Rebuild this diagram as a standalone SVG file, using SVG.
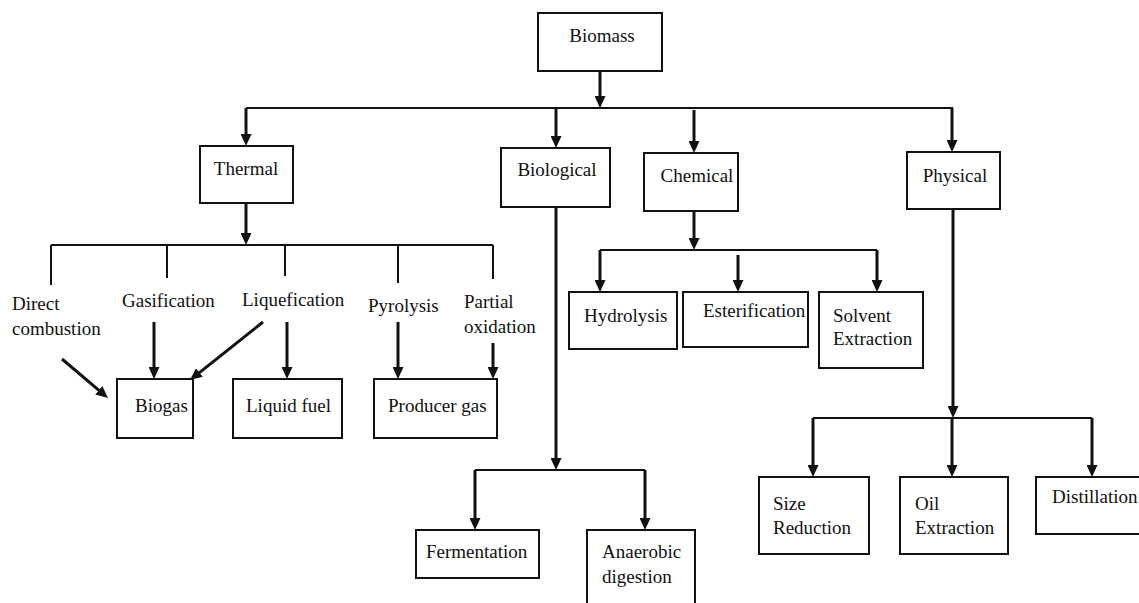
<svg xmlns="http://www.w3.org/2000/svg" width="1139" height="603" viewBox="0 0 1139 603">
<style>
  .box { fill: #fff; stroke: #111; stroke-width: 2; }
  .t { font-family: "Liberation Serif", "Times New Roman", serif; font-size: 19px; fill: #111; }
  .ln { fill: none; stroke: #111; stroke-width: 2; }
  .ar { fill: none; stroke: #111; stroke-width: 3; marker-end: url(#ah); }
</style>
<defs>
  <marker id="ah" markerUnits="userSpaceOnUse" markerWidth="12" markerHeight="11" refX="6" refY="5.5" orient="auto">
    <path d="M0,0 L12,5.5 L0,11 z" fill="#111"/>
  </marker>
</defs>
<rect width="1139" height="603" fill="#fff"/>

<g id="connectors">
  <!-- Biomass -->
  <line class="ar" x1="600" y1="71" x2="600" y2="102"/>
  <line class="ln" x1="246" y1="108" x2="953" y2="108"/>
  <line class="ar" x1="246" y1="108" x2="246" y2="140"/>
  <line class="ar" x1="556" y1="108" x2="556" y2="142"/>
  <line class="ar" x1="694" y1="110" x2="694" y2="147"/>
  <line class="ar" x1="952" y1="108" x2="952" y2="146"/>
  <!-- Thermal -->
  <line class="ar" x1="246" y1="203" x2="246" y2="239"/>
  <line class="ln" x1="51" y1="245" x2="493" y2="245"/>
  <line class="ln" x1="51" y1="245" x2="51" y2="285"/>
  <line class="ln" x1="167" y1="245" x2="167" y2="278"/>
  <line class="ln" x1="285" y1="245" x2="285" y2="276"/>
  <line class="ln" x1="398" y1="245" x2="398" y2="283"/>
  <line class="ln" x1="493" y1="245" x2="493" y2="279"/>
  <line class="ar" x1="62" y1="359" x2="103.4" y2="394.1"/>
  <line class="ar" x1="154" y1="322" x2="154" y2="373"/>
  <line class="ar" x1="263" y1="322" x2="194.7" y2="376.3"/>
  <line class="ar" x1="287" y1="322" x2="287" y2="373"/>
  <line class="ar" x1="398" y1="322" x2="398" y2="373"/>
  <line class="ar" x1="493" y1="343" x2="493" y2="373"/>
  <!-- Biological -->
  <line class="ar" x1="556" y1="207" x2="556" y2="464"/>
  <line class="ln" x1="475" y1="470" x2="645" y2="470"/>
  <line class="ar" x1="475" y1="470" x2="475" y2="524"/>
  <line class="ar" x1="645" y1="470" x2="645" y2="524"/>
  <!-- Chemical -->
  <line class="ar" x1="694" y1="211" x2="694" y2="244"/>
  <line class="ln" x1="600" y1="250" x2="877" y2="250"/>
  <line class="ar" x1="600" y1="250" x2="600" y2="286"/>
  <line class="ar" x1="738" y1="255" x2="738" y2="286"/>
  <line class="ar" x1="877" y1="250" x2="877" y2="286"/>
  <!-- Physical -->
  <line class="ar" x1="953" y1="209" x2="953" y2="412"/>
  <line class="ln" x1="813" y1="418" x2="1092" y2="418"/>
  <line class="ar" x1="813" y1="418" x2="813" y2="471"/>
  <line class="ar" x1="952" y1="418" x2="952" y2="471"/>
  <line class="ar" x1="1092" y1="418" x2="1092" y2="471"/>
</g>

<g id="biomass"><rect class="box" x="538" y="13" width="124" height="58"/><text class="t" x="602" y="42" text-anchor="middle">Biomass</text></g>
<g id="thermal"><rect class="box" x="200" y="146" width="93" height="57"/><text class="t" x="246" y="175" text-anchor="middle">Thermal</text></g>
<g id="biological"><rect class="box" x="501" y="148" width="109" height="59"/><text class="t" x="557" y="176" text-anchor="middle">Biological</text></g>
<g id="chemical"><rect class="box" x="644" y="153" width="94" height="58"/><text class="t" x="697" y="182" text-anchor="middle">Chemical</text></g>
<g id="physical"><rect class="box" x="907" y="152" width="93" height="57"/><text class="t" x="955" y="182" text-anchor="middle">Physical</text></g>

<g id="direct-combustion"><text class="t" x="12" y="310">Direct</text><text class="t" x="12" y="335">combustion</text></g>
<g id="gasification"><text class="t" x="122" y="307">Gasification</text></g>
<g id="liquefication"><text class="t" x="242" y="306">Liquefication</text></g>
<g id="pyrolysis"><text class="t" x="368" y="312">Pyrolysis</text></g>
<g id="partial-oxidation"><text class="t" x="464" y="308">Partial</text><text class="t" x="464" y="333">oxidation</text></g>

<g id="biogas"><rect class="box" x="117" y="379" width="76" height="59"/><text class="t" x="135" y="412">Biogas</text></g>
<g id="liquid-fuel"><rect class="box" x="233" y="379" width="109" height="59"/><text class="t" x="246" y="412">Liquid fuel</text></g>
<g id="producer-gas"><rect class="box" x="374" y="379" width="123" height="59"/><text class="t" x="388" y="412">Producer gas</text></g>

<g id="fermentation"><rect class="box" x="416" y="530" width="123" height="48"/><text class="t" x="426" y="558">Fermentation</text></g>
<g id="anaerobic-digestion"><rect class="box" x="587" y="530" width="108" height="80"/><text class="t" x="602" y="558">Anaerobic</text><text class="t" x="602" y="583">digestion</text></g>

<g id="hydrolysis"><rect class="box" x="569" y="292" width="108" height="57"/><text class="t" x="584" y="322">Hydrolysis</text></g>
<g id="esterification"><rect class="box" x="683" y="292" width="125" height="55"/><text class="t" x="703" y="317">Esterification</text></g>
<g id="solvent-extraction"><rect class="box" x="819" y="292" width="104" height="76"/><text class="t" x="833" y="322">Solvent</text><text class="t" x="833" y="345">Extraction</text></g>

<g id="size-reduction"><rect class="box" x="759" y="477" width="110" height="77"/><text class="t" x="773" y="510">Size</text><text class="t" x="773" y="534">Reduction</text></g>
<g id="oil-extraction"><rect class="box" x="900" y="477" width="108" height="77"/><text class="t" x="915" y="510">Oil</text><text class="t" x="915" y="534">Extraction</text></g>
<g id="distillation"><rect class="box" x="1036" y="477" width="104" height="57"/><text class="t" x="1052" y="503">Distillation</text></g>
</svg>
